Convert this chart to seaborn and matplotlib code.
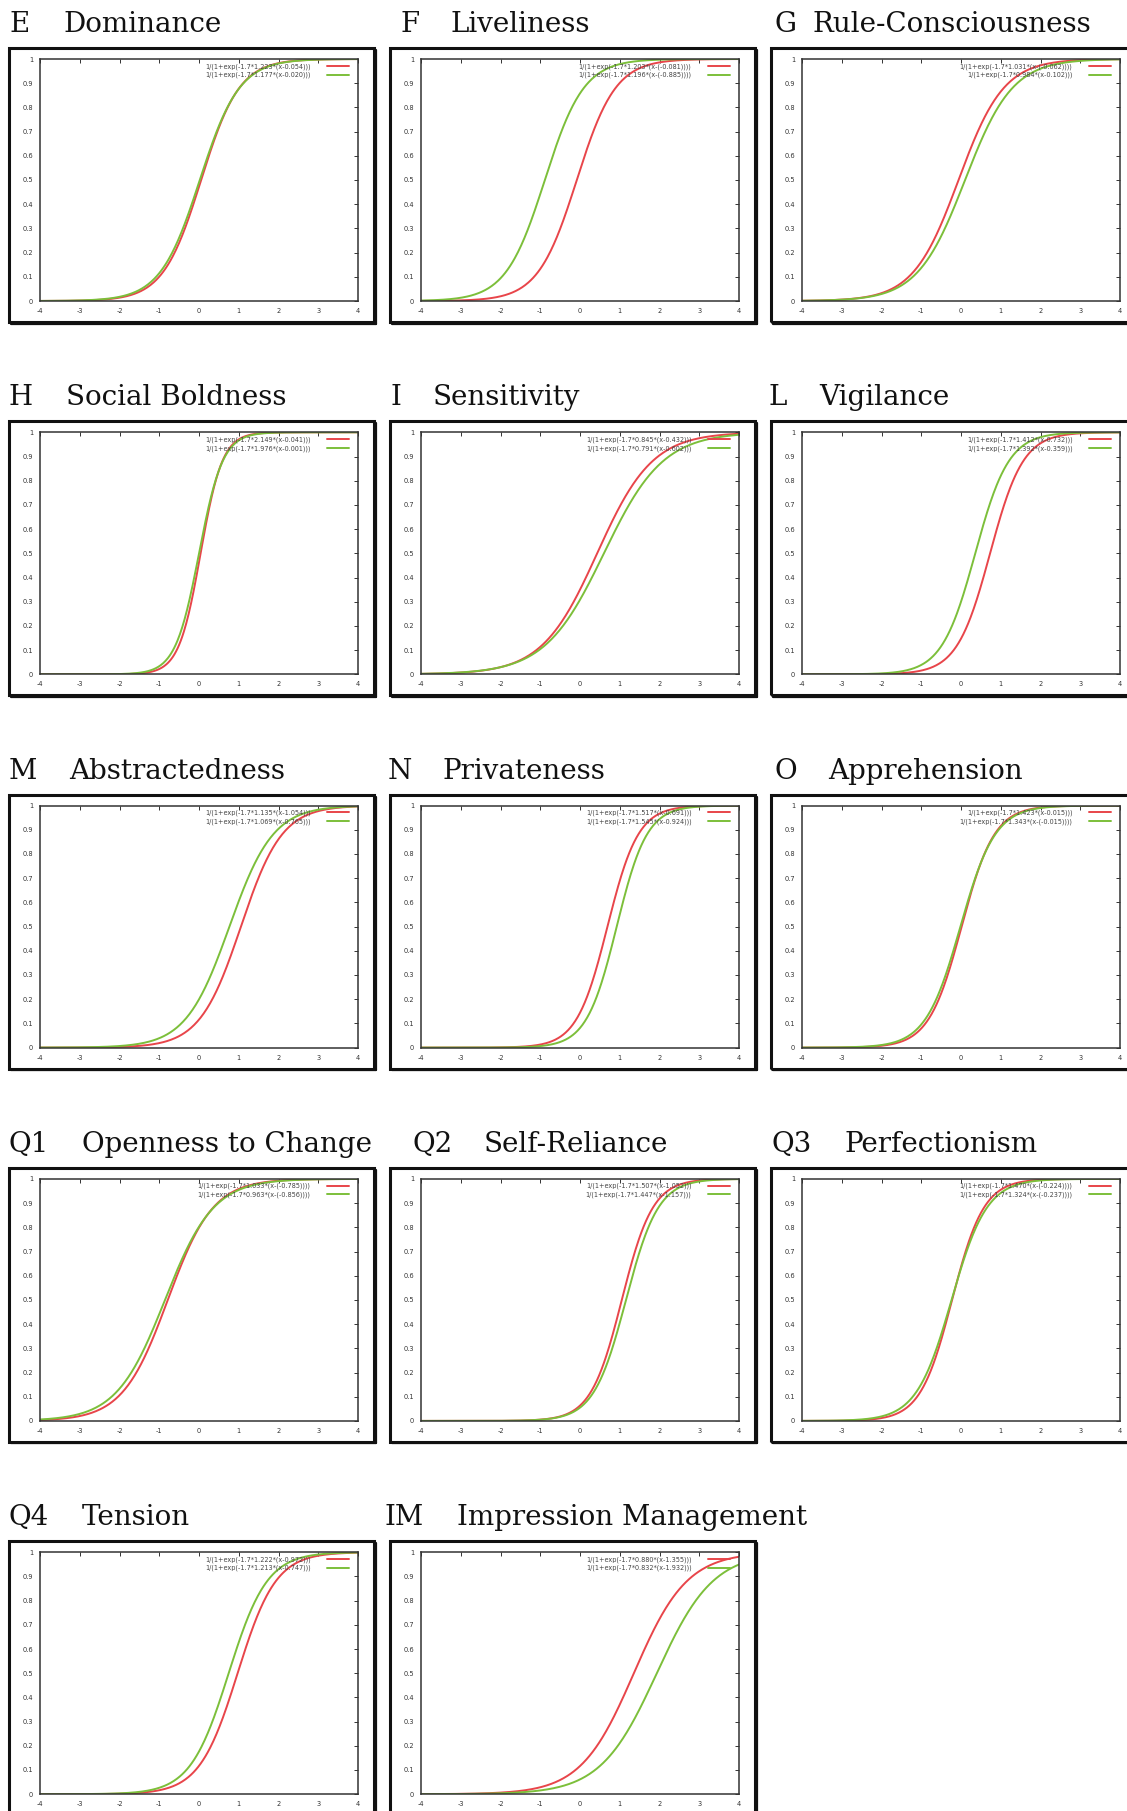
import numpy as np
import pandas as pd
import matplotlib
matplotlib.use("Agg")
import matplotlib.pyplot as plt
from matplotlib.patches import Rectangle
import seaborn as sns

sns.set_theme(style="white")
plt.rcParams["font.family"] = ["DejaVu Sans"]
plt.rcParams["axes.unicode_minus"] = False

# scale codes and names
codes = ["E", "F", "G", "H", "I", "L", "M", "N", "O", "Q1", "Q2", "Q3", "Q4", "IM"]
names = ["Dominance", "Liveliness", "Rule-Consciousness", "Social Boldness",
         "Sensitivity", "Vigilance", "Abstractedness", "Privateness",
         "Apprehension", "Openness to Change", "Self-Reliance", "Perfectionism",
         "Tension", "Impression Management"]

# 2PL item parameters (discrimination a, difficulty b) for the two groups
red_a = [1.223, 1.203, 1.031, 2.149, 0.845, 1.412, 1.135, 1.517, 1.423, 1.033, 1.507, 1.470, 1.222, 0.880]
red_b = [0.054, -0.081, -0.062, 0.041, 0.432, 0.732, 1.054, 0.691, 0.015, -0.785, 1.052, -0.224, 0.972, 1.355]
green_a = [1.177, 1.196, 0.984, 1.976, 0.791, 1.392, 1.069, 1.545, 1.343, 0.963, 1.447, 1.324, 1.213, 0.832]
green_b = [0.020, -0.885, 0.102, 0.001, 0.602, 0.359, 0.765, 0.924, -0.015, -0.856, 1.157, -0.237, 0.747, 1.932]

x_ticks = [-4, -3, -2, -1, 0, 1, 2, 3, 4]
y_ticks = [0, 0.1, 0.2, 0.3, 0.4, 0.5, 0.6, 0.7, 0.8, 0.9, 1]

RED = "#e8454a"
GREEN = "#7cbf3a"

W, H = 1127, 1811
fig = plt.figure(figsize=(W / 100, H / 100), dpi=100)
fig.patch.set_facecolor("white")

# pixel layout of the panels
box_left = [9, 390, 771]
row_step = 373.3
box_top0 = 48
box_w, box_h = 365, 274
# title positions (code x, name x) per panel
title_code_x = [9, 400, 774, 9, 390, 768, 9, 388, 774, 9, 412, 772, 9, 384]
title_name_x = [63, 450, 812, 66, 433, 819, 69, 443, 828, 82, 484, 844, 82, 457]


def formula(a, b):
    bs = f"{b:.3f}" if b >= 0 else f"({b:.3f})"
    return f"1/(1+exp(-1.7*{a:.3f}*(x-{bs})))"


xs = np.linspace(-4, 4, 401)

for i, code in enumerate(codes):
    r, c = divmod(i, 3)
    bx = box_left[c]
    by = box_top0 + row_step * r

    # outer frame of each pasted plot
    fig.add_artist(Rectangle((bx / W, 1 - (by + box_h) / H), box_w / W, box_h / H,
                             transform=fig.transFigure, fill=False, ec="#111111", lw=2.2))
    fig.add_artist(plt.Line2D([(bx + box_w + 1.5) / W] * 2,
                              [1 - (by + 2) / H, 1 - (by + box_h + 1.5) / H],
                              transform=fig.transFigure, color="#111111", lw=1.6))
    fig.add_artist(plt.Line2D([(bx + 2) / W, (bx + box_w + 1.5) / W],
                              [1 - (by + box_h + 1.5) / H] * 2,
                              transform=fig.transFigure, color="#111111", lw=1.6))

    # title
    base = 32 + row_step * r
    fig.text(title_code_x[i] / W, 1 - base / H, code, family="DejaVu Serif",
             fontsize=20, va="baseline", ha="left", color="#111111")
    fig.text(title_name_x[i] / W, 1 - base / H, names[i], family="DejaVu Serif",
             fontsize=20, va="baseline", ha="left", color="#111111")

    ax_l, ax_t, ax_w, ax_h = bx + 31, by + 11, 318, 242
    ax = fig.add_axes([ax_l / W, 1 - (ax_t + ax_h) / H, ax_w / W, ax_h / H])

    df = pd.DataFrame({
        "x": np.concatenate([xs, xs]),
        "y": np.concatenate([1 / (1 + np.exp(-1.7 * red_a[i] * (xs - red_b[i]))),
                             1 / (1 + np.exp(-1.7 * green_a[i] * (xs - green_b[i])))]),
        "curve": [formula(red_a[i], red_b[i])] * len(xs) + [formula(green_a[i], green_b[i])] * len(xs),
    })
    sns.lineplot(data=df, x="x", y="y", hue="curve", palette=[RED, GREEN],
                 ax=ax, lw=1.4, legend=True)

    ax.set_xlim(-4, 4)
    ax.set_ylim(0, 1)
    ax.set_xticks(x_ticks)
    ax.set_yticks(y_ticks)
    ax.set_xticklabels([f"{t:g}" for t in x_ticks])
    ax.set_yticklabels([f"{t:g}" for t in y_ticks])
    ax.set_xlabel("")
    ax.set_ylabel("")
    ax.tick_params(direction="in", top=True, right=True, length=3, width=0.7,
                   labelsize=4.8, labelcolor="#333333", color="#333333", pad=5)
    for s in ax.spines.values():
        s.set_color("#333333")
        s.set_linewidth(1.1)

    h, l = ax.get_legend_handles_labels()
    ax.legend(h, l, loc="upper right", bbox_to_anchor=(1 - 9 / ax_w, 1 - 4 / ax_h),
              frameon=False, fontsize=4.7, markerfirst=False, borderpad=0,
              borderaxespad=0, handlelength=3.4, handletextpad=2.5,
              labelspacing=0.35, labelcolor="#444444")

fig.savefig("out.png", dpi=100, facecolor="white")
